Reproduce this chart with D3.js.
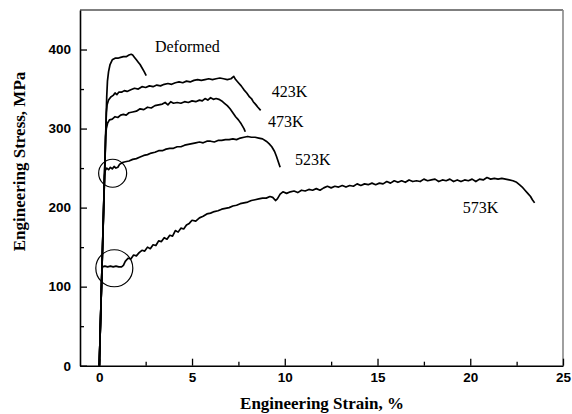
<!DOCTYPE html>
<html lang="en">
<head>
  <meta charset="UTF-8">
  <title>Engineering stress-strain curves</title>
  <script src="https://d3js.org/d3.v7.min.js"></script>
  <style>
    body { margin: 0; background: #fff; }
    svg { display: block; }
    .tick text { font-family: 'Liberation Sans', Arial, sans-serif; font-weight: bold; font-size: 13.5px; fill: #000; }
    .axis-title { font-family: 'Liberation Serif', 'Times New Roman', serif; font-weight: bold; font-size: 17px; }
    .curve-label { font-family: 'Liberation Serif', 'Times New Roman', serif; font-size: 16px; }
    .curve { fill: none; stroke: #000; stroke-width: 1.7px; stroke-linejoin: round; }
  </style>
</head>
<body>
  <svg id="chart" width="572" height="414"></svg>
  <script>
    // strain (%), stress (MPa) pairs
    const deformed = [[0,0],[0.40,340],[0.44,360],[0.5,372],[0.58,381],[0.7,387],[0.85,389],[1.0,389],[1.15,390],[1.3,391],[1.45,391],[1.6,393],[1.72,394],[1.8,393],[1.9,390],[2.0,387],[2.1,384],[2.2,381],[2.3,377],[2.42,372],[2.53,367]];
    const k423 = [[0,0],[0.38,320],[0.42,330],[0.5,336],[0.62,340],[0.75,342],[0.85,345],[0.95,343],[1.05,346],[1.2,346],[1.35,348],[1.5,347],[1.7,349],[1.9,351],[2.1,350],[2.3,353],[2.5,352],[2.7,354],[2.9,353],[3.1,355],[3.3,354],[3.5,356],[3.7,357],[3.9,356],[4.1,358],[4.3,359],[4.5,358],[4.7,360],[4.9,359],[5.1,361],[5.3,362],[5.5,361],[5.7,362],[5.9,363],[6.1,362],[6.3,363],[6.5,364],[6.7,363],[6.9,362],[7.1,363],[7.25,366],[7.35,362],[7.5,358],[7.65,354],[7.8,349],[7.95,345],[8.1,340],[8.2,338],[8.3,334],[8.45,330],[8.55,327],[8.7,323]];
    const k473 = [[0,0],[0.34,290],[0.38,300],[0.45,307],[0.55,311],[0.7,312],[0.85,315],[1.0,314],[1.15,317],[1.3,318],[1.45,317],[1.6,320],[1.8,321],[2.0,322],[2.2,325],[2.4,324],[2.6,327],[2.8,326],[3.0,329],[3.2,330],[3.4,331],[3.55,333],[3.7,330],[3.85,334],[4.0,332],[4.2,333],[4.4,332],[4.6,334],[4.8,333],[5.0,335],[5.2,334],[5.4,336],[5.55,335],[5.7,338],[5.85,336],[6.0,339],[6.15,337],[6.3,338],[6.45,337],[6.6,335],[6.75,332],[6.9,329],[7.05,325],[7.2,320],[7.35,315],[7.5,311],[7.65,306],[7.8,300],[7.87,296]];
    const k523 = [[0,0],[0.28,240],[0.32,247],[0.4,250],[0.5,248],[0.6,251],[0.7,249],[0.8,252],[0.9,250],[1.0,251],[1.1,255],[1.25,257],[1.4,258],[1.6,259],[1.8,261],[2.0,262],[2.2,264],[2.4,266],[2.6,267],[2.8,269],[3.0,270],[3.2,272],[3.4,272],[3.6,274],[3.8,275],[4.0,275],[4.2,277],[4.4,277],[4.6,279],[4.8,280],[5.0,281],[5.2,282],[5.4,283],[5.6,282],[5.8,284],[6.0,284],[6.2,283],[6.4,285],[6.6,285],[6.8,286],[7.0,286],[7.2,287],[7.4,286],[7.6,288],[7.8,289],[8.0,290],[8.2,289],[8.4,289],[8.6,288],[8.8,287],[9.0,284],[9.15,281],[9.3,277],[9.45,271],[9.55,265],[9.65,258],[9.75,251]];
    const k573 = [[0,0],[0.14,120],[0.17,125],[0.3,126],[0.45,125],[0.6,126],[0.75,125],[0.9,126],[1.05,125],[1.2,125],[1.3,127],[1.4,132],[1.55,136],[1.7,135],[1.85,140],[2.0,139],[2.15,143],[2.3,146],[2.45,145],[2.6,150],[2.75,148],[2.9,153],[3.05,152],[3.2,158],[3.35,157],[3.5,162],[3.65,160],[3.8,165],[3.95,164],[4.1,171],[4.25,169],[4.4,174],[4.55,173],[4.7,178],[4.85,180],[5.0,184],[5.2,183],[5.4,187],[5.6,189],[5.8,192],[6.0,193],[6.2,195],[6.4,196],[6.6,198],[6.8,199],[7.0,200],[7.2,202],[7.4,203],[7.6,205],[7.8,206],[8.0,207],[8.2,209],[8.4,210],[8.6,211],[8.8,212],[9.0,212],[9.2,214],[9.35,213],[9.5,209],[9.6,211],[9.75,217],[9.9,220],[10.1,218],[10.3,220],[10.5,221],[10.7,219],[10.9,222],[11.1,221],[11.3,223],[11.5,222],[11.7,224],[11.9,222],[12.1,225],[12.3,227],[12.5,225],[12.7,227],[12.9,226],[13.1,228],[13.3,226],[13.5,228],[13.7,227],[13.9,230],[14.1,228],[14.3,230],[14.5,229],[14.7,231],[14.9,229],[15.1,231],[15.3,230],[15.5,233],[15.7,231],[15.9,234],[16.1,232],[16.3,234],[16.5,232],[16.7,235],[16.9,233],[17.1,234],[17.3,233],[17.5,236],[17.7,234],[17.9,235],[18.1,236],[18.3,233],[18.5,235],[18.7,234],[18.9,236],[19.1,233],[19.3,235],[19.5,233],[19.7,235],[19.9,234],[20.1,236],[20.3,233],[20.5,236],[20.7,235],[20.9,238],[21.1,236],[21.3,237],[21.5,236],[21.7,237],[21.9,236],[22.1,235],[22.3,234],[22.5,232],[22.65,229],[22.8,226],[22.95,222],[23.1,218],[23.25,214],[23.35,210],[23.47,206]];

    const curves = [deformed, k423, k473, k523, k573];
    const labels = ["Deformed", "423K", "473K", "523K", "573K"];
    const labelAt = [[3.0, 397], [9.3, 340], [9.1, 302], [10.55, 254], [19.6, 193]];

    // circled yield plateaus: [strain, stress, radius px]
    const circles = [[0.72, 243.5, 14], [0.81, 123.3, 18.5]];

    const xTicks = [0, 5, 10, 15, 20, 25];
    const xMinor = [2.5, 7.5, 12.5, 17.5, 22.5];
    const yTicks = [0, 100, 200, 300, 400];
    const yMinor = [50, 150, 250, 350];

    const svg = d3.select("#chart");
    const mLeft = 80, mRight = 563, mTop = 10, mBottom = 365.7;

    const x = d3.scaleLinear().domain([-1.04, 25]).range([mLeft, mRight]);
    const y = d3.scaleLinear().domain([0, 450]).range([mBottom, mTop]);

    // frame top / right
    svg.append("line").attr("x1", mLeft).attr("x2", mRight).attr("y1", mTop).attr("y2", mTop)
      .attr("stroke", "#000").attr("stroke-width", 1.2);
    svg.append("line").attr("x1", mRight).attr("x2", mRight).attr("y1", mTop).attr("y2", mBottom)
      .attr("stroke", "#888").attr("stroke-width", 1.6);

    svg.append("g").attr("transform", `translate(0,${mBottom})`)
      .call(d3.axisBottom(x).tickValues(xTicks).tickSizeInner(-7).tickSizeOuter(0).tickPadding(7));
    svg.append("g").attr("transform", `translate(0,${mBottom})`)
      .call(d3.axisBottom(x).tickValues(xMinor).tickSizeInner(-4).tickSizeOuter(0).tickFormat(""))
      .select(".domain").remove();

    svg.append("g").attr("transform", `translate(${mLeft},0)`)
      .call(d3.axisLeft(y).tickValues(yTicks).tickSizeInner(-7).tickSizeOuter(0).tickPadding(9));
    svg.append("g").attr("transform", `translate(${mLeft},0)`)
      .call(d3.axisLeft(y).tickValues(yMinor).tickSizeInner(-4).tickSizeOuter(0).tickFormat(""))
      .select(".domain").remove();

    svg.selectAll(".domain").attr("stroke", "#000").attr("stroke-width", 1.6);
    svg.selectAll(".tick line").attr("stroke", "#000").attr("stroke-width", 1.3);

    const line = d3.line().x(d => x(d[0])).y(d => y(d[1]));

    svg.append("g").selectAll("path")
      .data(curves)
      .enter().append("path")
      .attr("class", "curve")
      .attr("d", line);

    svg.append("g").selectAll("circle")
      .data(circles)
      .enter().append("circle")
      .attr("cx", d => x(d[0]))
      .attr("cy", d => y(d[1]))
      .attr("r", d => d[2])
      .attr("fill", "none")
      .attr("stroke", "#000")
      .attr("stroke-width", 1.2);

    svg.append("g").selectAll("text")
      .data(labels)
      .enter().append("text")
      .attr("class", "curve-label")
      .attr("x", (d, i) => x(labelAt[i][0]))
      .attr("y", (d, i) => y(labelAt[i][1]))
      .text(d => d);

    svg.append("text")
      .attr("class", "axis-title")
      .attr("text-anchor", "middle")
      .attr("x", (mLeft + mRight) / 2 + 0.5)
      .attr("y", 409)
      .text("Engineering Strain, %");

    svg.append("text")
      .attr("class", "axis-title")
      .attr("text-anchor", "middle")
      .attr("transform", "translate(25,161.5) rotate(-90)")
      .text("Engineering Stress, MPa");
  </script>
</body>
</html>
